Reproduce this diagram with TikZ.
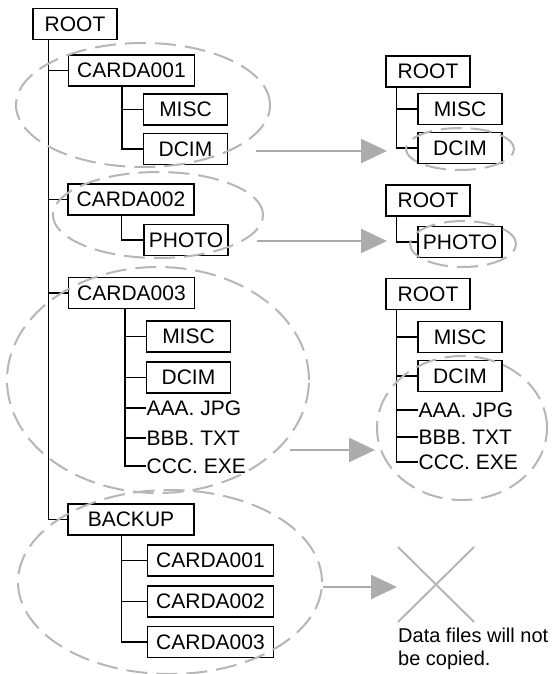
\documentclass[tikz,border=0pt]{standalone}
\usepackage{fontspec}
\setmainfont{Liberation Sans}
\usepackage{xcolor}
\usetikzlibrary{arrows.meta}
\usetikzlibrary{calc, math}
\definecolor{mygray}{RGB}{182,182,182}
\definecolor{myarrow}{RGB}{172,172,172}

\tikzset{
 folder/.style={draw, line width=1.2pt, minimum width=84pt, minimum height=31pt, inner sep=0pt, font=\fontsize{21}{25}\selectfont},
 widefolder/.style={folder, minimum width=126pt},
 datafile/.style={anchor=west, inner sep=0.5pt, font=\fontsize{21}{25}\selectfont},
 branch/.style={line width=1.2pt},
 ring/.style={mygray, line width=2pt, dash pattern=on 21pt off 9pt},
 copyarrow/.style={myarrow, line width=2.5pt, -{Triangle[length=26pt,width=24pt]}},
}

\begin{document}
\begin{tikzpicture}[x=1pt,y=-1pt]
\useasboundingbox (0,0) rectangle (551,674);
\tikzmath{
\tx=16;
\sx=54;
\rx=11;
}

 % card side
 \node[folder] (root) at (75,24) {ROOT};

 \node[widefolder] (cardA) at (131.5,70.5) {CARDA001};
 \node[folder] (miscA) at (185.5,109.5) {MISC};
 \node[folder] (dcimA) at (185.5,149) {DCIM};

 \node[widefolder] (cardB) at (131,199.5) {CARDA002};
 \node[folder] (photoB) at (186,240) {PHOTO};

 \node[widefolder] (cardC) at (131.5,293) {CARDA003};
 \node[folder] (miscC) at (188.5,336.5) {MISC};
 \node[folder] (dcimC) at (188.5,377.5) {DCIM};
 \node[datafile] (aaaC) at (146,408) {AAA. JPG};
 \node[datafile] (bbbC) at (146,438) {BBB. TXT};
 \node[datafile] (cccC) at (146,466) {CCC. EXE};

 \node[widefolder] (backup) at (131,519.5) {BACKUP};
 \node[widefolder] (bkA) at (210.5,560.5) {CARDA001};
 \node[widefolder] (bkB) at (210.5,601.5) {CARDA002};
 \node[widefolder] (bkC) at (210.5,642) {CARDA003};

 \coordinate (rootT) at ($(root.south west)+(\tx,0)$);
 \coordinate (cardAT) at ($(cardA.south west)+(\sx,0)$);
 \coordinate (cardBT) at ($(cardB.south west)+(\sx,0)$);
 \coordinate (cardCT) at ($(cardC.south west)+(\sx+3,0)$);
 \coordinate (backupT) at ($(backup.south west)+(\sx,0)$);

 \draw[branch] (rootT) |- (cardA.west);
 \draw[branch] (rootT) |- (cardB.west);
 \draw[branch] (rootT) |- (cardC.west);
 \draw[branch] (rootT) |- (backup.west);

 \draw[branch] (cardAT) |- (miscA.west);
 \draw[branch] (cardAT) |- (dcimA.west);
 \draw[branch] (cardBT) |- (photoB.west);
 \draw[branch] (cardCT) |- (miscC.west);
 \draw[branch] (cardCT) |- (dcimC.west);
 \draw[branch] (cardCT) |- (aaaC.west);
 \draw[branch] (cardCT) |- (bbbC.west);
 \draw[branch] (cardCT) |- (cccC.west);
 \draw[branch] (backupT) |- (bkA.west);
 \draw[branch] (backupT) |- (bkB.west);
 \draw[branch] (backupT) |- (bkC.west);

 % copied side
 \node[folder] (rootA) at (428,71.5) {ROOT};
 \node[folder] (miscR) at (460,109) {MISC};
 \node[folder] (dcimR) at (460,148) {DCIM};

 \node[folder] (rootB) at (428,200.5) {ROOT};
 \node[folder] (photoR) at (460,242) {PHOTO};

 \node[folder] (rootC) at (428,294) {ROOT};
 \node[folder] (miscS) at (460,337) {MISC};
 \node[folder] (dcimS) at (460,376) {DCIM};
 \node[datafile] (aaaS) at (418,410) {AAA. JPG};
 \node[datafile] (bbbS) at (418,437) {BBB. TXT};
 \node[datafile] (cccS) at (418,462) {CCC. EXE};

 \coordinate (rootAT) at ($(rootA.south west)+(\rx,0)$);
 \coordinate (rootBT) at ($(rootB.south west)+(\rx,0)$);
 \coordinate (rootCT) at ($(rootC.south west)+(\rx,0)$);

 \draw[branch] (rootAT) |- (miscR.west);
 \draw[branch] (rootAT) |- (dcimR.west);
 \draw[branch] (rootBT) |- (photoR.west);
 \draw[branch] (rootCT) |- (miscS.west);
 \draw[branch] (rootCT) |- (dcimS.west);
 \draw[branch] (rootCT) |- (aaaS.west);
 \draw[branch] (rootCT) |- (bbbS.west);
 \draw[branch] (rootCT) |- (cccS.west);

 % selections
 \draw[ring] (143,105) ellipse [x radius=127pt, y radius=62pt];
 \draw[ring] (158,215) ellipse [x radius=105pt, y radius=43pt];
 \draw[ring] (158,380) ellipse [x radius=151pt, y radius=113pt];
 \draw[ring] (170,582) ellipse [x radius=152pt, y radius=92pt];
 \draw[ring] (460,149) ellipse [x radius=54pt, y radius=21pt];
 \draw[ring] (463,244) ellipse [x radius=53pt, y radius=23pt];
 \draw[ring] (462,428) ellipse [x radius=85pt, y radius=72pt];

 % arrows
 \coordinate (fromA) at (256,151);
 \coordinate (toA) at (387,151);
 \coordinate (fromB) at (257,241);
 \coordinate (toB) at (387,241);
 \coordinate (fromC) at (290,450);
 \coordinate (toC) at (375,450);
 \coordinate (fromD) at (323,587);
 \coordinate (nocopy) at (436,584);
 \coordinate (toD) at ($(nocopy)+(-39,3)$);

 \draw[copyarrow] (fromA) -- (toA);
 \draw[copyarrow] (fromB) -- (toB);
 \draw[copyarrow] (fromC) -- (toC);
 \draw[copyarrow] (fromD) -- (toD);

 \draw[mygray, line width=2pt] ($(nocopy)+(-38,-37)$) -- ($(nocopy)+(38,38)$);
 \draw[mygray, line width=2pt] ($(nocopy)+(38,-37)$) -- ($(nocopy)+(-38,38)$);

 \node[anchor=north west, inner sep=0pt, align=left, font=\fontsize{20}{23}\selectfont] (msg) at (398,628) {Data files will not\\be copied.};

\end{tikzpicture}
\end{document}
